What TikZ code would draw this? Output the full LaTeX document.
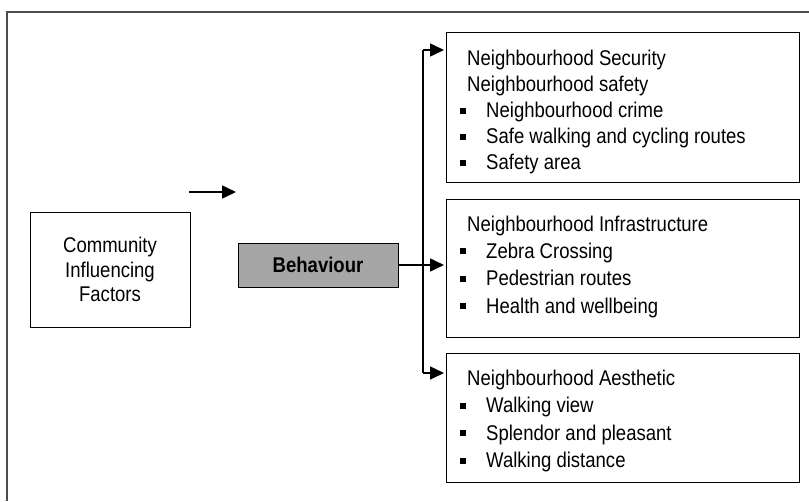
\documentclass[tikz,border=0pt]{standalone}
\usepackage{fontspec}
\setmainfont{Liberation Sans}[FakeStretch=0.87]
\usetikzlibrary{positioning,arrows.meta}

\definecolor{behgray}{RGB}{166,166,166}
\newcommand{\itm}[1]{\makebox[26pt][l]{\rule[4pt]{6pt}{6pt}}#1}
\newcommand{\hdr}[1]{\hspace*{7pt}#1}

\begin{document}
\begin{tikzpicture}[x=1pt,y=-1pt,
  box/.style={draw,line width=1pt,minimum width=353pt,anchor=north west,inner sep=0pt},
  txt/.style={align=left,anchor=north west,inner sep=0pt},
  arr/.style={line width=1.6pt,-{Triangle[length=14pt,width=13pt]}}]
\useasboundingbox (0,0) rectangle (809,501);
% frame
\draw[gray!60!black,line width=1.5pt] (809,12) -- (7,12) -- (7,501);

\node[draw,line width=1pt,minimum width=160pt,minimum height=115pt,inner sep=0pt,
  align=center,font=\fontsize{21.3}{24.5}\selectfont] (cif) at (110,269.5)
  {Community\\Influencing\\Factors};
\node[draw,line width=1pt,fill=behgray,minimum width=160pt,minimum height=44pt,inner sep=0pt,
  font=\fontsize{21.3}{25}\selectfont\bfseries] (beh) at (318,265) {Behaviour};

% boxes on the right
\node[box,minimum height=150pt] (sec) at (446,32) {};
\node[box,minimum height=138pt] (inf) at (446,199) {};
\node[box,minimum height=129pt] (aes) at (446,353) {};

\node[txt,font=\fontsize{21.3}{26.2}\selectfont] (sectxt) at ([xshift=14pt,yshift=-17.5pt]sec.north west)
  {\hdr{Neighbourhood Security}\\\hdr{Neighbourhood safety}\\\itm{Neighbourhood crime}\\
   \itm{Safe walking and cycling routes}\\\itm{Safety area}};
\node[txt,font=\fontsize{21.3}{27.3}\selectfont] (inftxt) at ([xshift=14pt,yshift=-16.5pt]inf.north west)
  {\hdr{Neighbourhood Infrastructure}\\\itm{Zebra Crossing}\\\itm{Pedestrian routes}\\
   \itm{Health and wellbeing}};
\node[txt,font=\fontsize{21.3}{27.5}\selectfont] (aestxt) at ([xshift=14pt,yshift=-16.5pt]aes.north west)
  {\hdr{Neighbourhood Aesthetic}\\\itm{Walking view}\\\itm{Splendor and pleasant}\\
   \itm{Walking distance}};

% connectors
\coordinate (a1) at (189,192);
\coordinate (a2) at (236,192);
\draw[arr] (a1) -- (a2);
\coordinate (top) at (423,50);
\coordinate (bot) at (423,373);
\draw[line width=1.6pt] (top) -- (bot);
\draw[arr,shorten >=2pt] (beh.east) -- (beh.east -| inf.west);
\draw[arr,shorten >=2pt] (top) -- (top -| sec.west);
\draw[arr,shorten >=2pt] (bot) -- (bot -| aes.west);
\end{tikzpicture}
\end{document}
